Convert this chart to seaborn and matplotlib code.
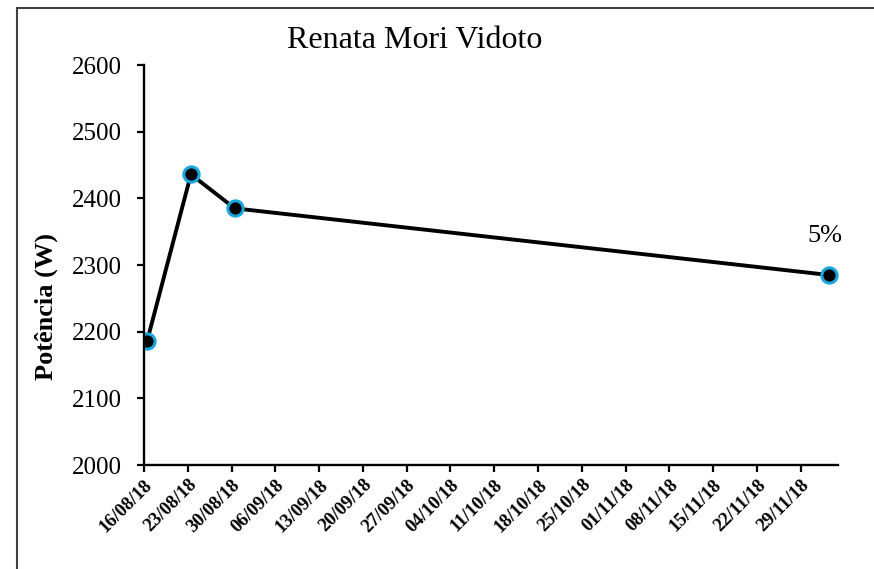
import matplotlib
matplotlib.use("Agg")
import matplotlib.pyplot as plt
import matplotlib.dates as mdates
from matplotlib.lines import Line2D
import pandas as pd
import seaborn as sns

# Measurement dates and power readings
dates = ["2018-08-16", "2018-08-23", "2018-08-30", "2018-12-03"]
potencia = [2186, 2436, 2385, 2285]
variacao_label = "5%"

# Axis settings
tick_start = "2018-08-16"
tick_end = "2018-11-29"
axis_end = "2018-12-04"
y_ticks = [2000, 2100, 2200, 2300, 2400, 2500, 2600]

sns.set_theme(style="white")
plt.rcParams["font.family"] = ["Liberation Serif", "DejaVu Serif"]

df = pd.DataFrame({
    # daily points sit in the middle of their day on the date axis
    "data": pd.to_datetime(dates) + pd.Timedelta(hours=12),
    "potencia": potencia,
})

W, H = 874, 569
fig = plt.figure(figsize=(W / 100, H / 100), dpi=100)
ax = fig.add_axes([144 / W, 1 - 465 / H, 694 / W, 400 / H])

sns.lineplot(data=df, x="data", y="potencia", ax=ax, color="black",
             linewidth=2.8, marker="o", markersize=11,
             markerfacecolor="black", markeredgecolor="#1aa7e0",
             markeredgewidth=2.2)

ax.set_xlim(pd.Timestamp(tick_start), pd.Timestamp(axis_end) + pd.Timedelta(hours=23))
ax.set_ylim(y_ticks[0], y_ticks[-1])
ax.set_yticks(y_ticks)

xt = pd.date_range(tick_start, tick_end, freq="7D")
ax.set_xticks(xt)
ax.xaxis.set_major_formatter(mdates.DateFormatter("%d/%m/%y"))
for lbl in ax.get_xticklabels():
    lbl.set_rotation(45)
    lbl.set_ha("right")
    lbl.set_va("top")
    lbl.set_rotation_mode("anchor")
    lbl.set_fontweight("bold")
    lbl.set_fontsize(13.5)
ax.tick_params(axis="y", labelsize=18, length=5, width=1.6, direction="out",
               left=True, pad=11, color="black", labelcolor="black")
ax.tick_params(axis="x", length=5, width=1.6, direction="out", bottom=True,
               pad=3, color="black", labelcolor="black")

for side in ("top", "right"):
    ax.spines[side].set_visible(False)
for side in ("left", "bottom"):
    ax.spines[side].set_color("black")
    ax.spines[side].set_linewidth(1.7)

ax.set_xlabel("")
ax.set_ylabel("")
fig.text(46 / W, 1 - 307 / H, "Potência (W)", rotation=90, ha="center",
         va="center", fontsize=19, fontweight="bold", color="black")
fig.text(0.475, 1 - 48 / H, "Renata Mori Vidoto", ha="center", va="baseline",
         fontsize=23, color="black")

ax.annotate(variacao_label, xy=(df["data"].iloc[-1], potencia[-1]),
            xytext=(-3, 24), textcoords="offset points", ha="center",
            va="baseline", fontsize=19, color="black")

# chart frame lines along the top and left edges
fig.add_artist(Line2D([17 / W, 1.0], [1 - 8 / H, 1 - 8 / H],
                      transform=fig.transFigure, color="#404040", linewidth=1.5))
fig.add_artist(Line2D([17 / W, 17 / W], [0.0, 1 - 8 / H],
                      transform=fig.transFigure, color="#404040", linewidth=1.5))

fig.savefig("out.png", dpi=100, facecolor="white")
